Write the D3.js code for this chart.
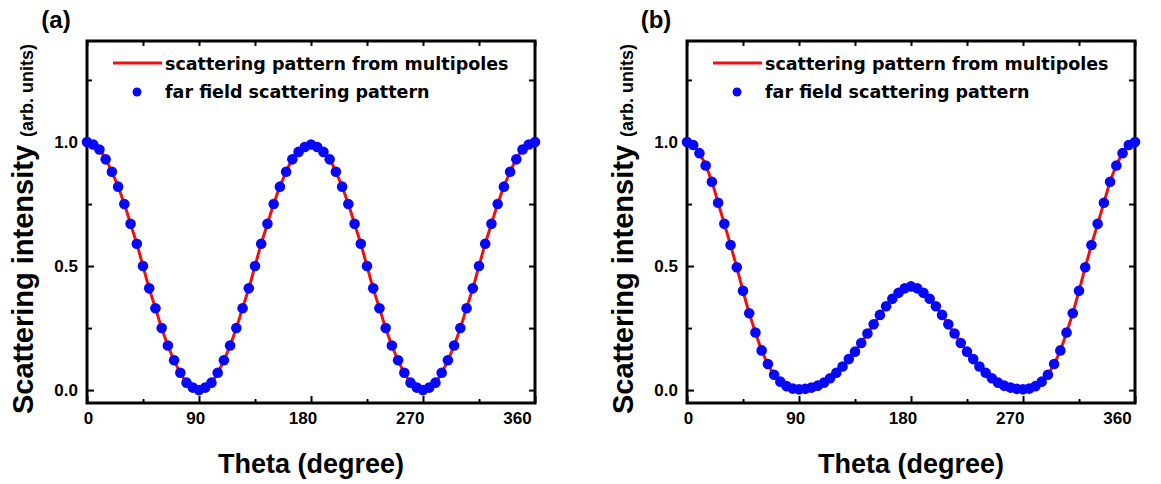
<!DOCTYPE html>
<html>
<head>
<meta charset="utf-8">
<script src="https://cdn.jsdelivr.net/npm/d3@7"></script>
<style>
  body { margin: 0; background: #fff; }
  svg { display: block; }
  .tick text { font-family: "Liberation Sans", Arial, sans-serif; font-weight: bold; font-size: 17px; fill: #000; }
  .tick line { stroke: #000; stroke-width: 2; }
</style>
</head>
<body>
<div id="chart"></div>
<script>
// angle grid (degree)
var thetaDeg = [0,5,10,15,20,25,30,35,40,45,50,55,60,65,70,75,80,85,90,
  95,100,105,110,115,120,125,130,135,140,145,150,155,160,165,170,175,180,
  185,190,195,200,205,210,215,220,225,230,235,240,245,250,255,260,265,270,
  275,280,285,290,295,300,305,310,315,320,325,330,335,340,345,350,355,360];

// panel (a): multipole curve and far field points lie on top of each other
var intensityA = [1.00,0.99,0.97,0.93,0.88,0.82,0.75,0.67,0.59,0.50,0.41,0.33,0.25,0.18,0.12,0.07,0.03,0.01,0.00,
  0.01,0.03,0.07,0.12,0.18,0.25,0.33,0.41,0.50,0.59,0.67,0.75,0.82,0.88,0.93,0.96,0.98,0.99,
  0.98,0.96,0.93,0.88,0.82,0.75,0.67,0.59,0.50,0.41,0.33,0.25,0.18,0.12,0.07,0.03,0.01,0.00,
  0.01,0.03,0.07,0.12,0.18,0.25,0.33,0.41,0.50,0.59,0.67,0.75,0.82,0.88,0.93,0.97,0.99,1.00];

// panel (b)
var intensityB = [1.00,0.988,0.955,0.905,0.84,0.755,0.67,0.585,0.495,0.40,0.31,0.232,0.16,0.105,0.062,0.034,0.016,0.006,0.003,
  0.005,0.010,0.018,0.030,0.048,0.070,0.095,0.125,0.155,0.19,0.228,0.265,0.303,0.338,0.368,0.392,0.41,0.418,
  0.41,0.392,0.368,0.338,0.303,0.265,0.228,0.19,0.155,0.125,0.095,0.070,0.048,0.030,0.018,0.010,0.005,0.003,
  0.006,0.016,0.034,0.062,0.105,0.16,0.232,0.31,0.40,0.495,0.585,0.67,0.755,0.84,0.905,0.955,0.988,1.00];

var xMajor = [0, 90, 180, 270, 360];
var xMinor = [45, 135, 225, 315];
var yMajor = [0, 0.5, 1.0];
var yMinor = [0.25, 0.75, 1.25];

var panelNames = ["(a)", "(b)"];
var legendNames = ["scattering pattern from multipoles", "far field scattering pattern"];
var xTitle = "Theta (degree)";
var yTitle = "Scattering intensity";
var yUnit = "(arb. units)";

var W = 1161, H = 484;
var svg = d3.select("#chart").append("svg")
    .attr("width", W)
    .attr("height", H);

var panels = [
  { name: panelNames[0], values: intensityA, left: 87 },
  { name: panelNames[1], values: intensityB, left: 687 }
];

panels.forEach(function(p) {
  var top = 41, bottom = 403, width = 448;

  var x = d3.scaleLinear().domain([0, 360]).range([p.left, p.left + width]);
  var y = d3.scaleLinear().domain([-0.052, 1.407]).range([bottom, top]);
  // the tick numbers in the original sit on a slightly narrower span than the ticks
  var xLab = d3.scaleLinear().domain([0, 360]).range([p.left + 1, p.left + 430]);

  var g = svg.append("g");

  // axes with inward ticks
  var xa = g.append("g").attr("transform", "translate(0," + bottom + ")")
    .call(d3.axisBottom(x).tickValues(xMajor).tickSize(-7).tickPadding(9).tickFormat(d3.format("d")));
  xa.selectAll(".tick text").attr("dx", function(d) { return xLab(d) - x(d); });
  g.append("g").attr("transform", "translate(0," + bottom + ")")
    .call(d3.axisBottom(x).tickValues(xMinor).tickSize(-4).tickFormat(""));
  g.append("g").attr("transform", "translate(0," + top + ")")
    .call(d3.axisTop(x).tickValues(xMajor.concat(xMinor)).tickSize(-5).tickFormat(""));

  g.append("g").attr("transform", "translate(" + p.left + ",0)")
    .call(d3.axisLeft(y).tickValues(yMajor).tickSize(-7).tickPadding(9).tickFormat(d3.format(".1f")));
  g.append("g").attr("transform", "translate(" + p.left + ",0)")
    .call(d3.axisLeft(y).tickValues(yMinor).tickSize(-5).tickFormat(""));
  g.append("g").attr("transform", "translate(" + (p.left + width) + ",0)")
    .call(d3.axisRight(y).tickValues(yMajor.concat(yMinor)).tickSize(-6).tickFormat(""));

  g.selectAll(".domain").remove();

  // frame
  g.append("rect")
    .attr("x", p.left).attr("y", top)
    .attr("width", width).attr("height", bottom - top)
    .attr("fill", "none").attr("stroke", "#000").attr("stroke-width", 3);

  // red curve
  var line = d3.line()
    .x(function(d, i) { return x(thetaDeg[i]); })
    .y(function(d) { return y(d); })
    .curve(d3.curveCatmullRom);

  g.append("path")
    .datum(p.values)
    .attr("d", line)
    .attr("fill", "none")
    .attr("stroke", "#f01010")
    .attr("stroke-width", 3);

  // blue points
  g.append("g")
    .selectAll("circle")
    .data(p.values)
    .enter()
    .append("circle")
      .attr("cx", function(d, i) { return x(thetaDeg[i]); })
      .attr("cy", function(d) { return y(d); })
      .attr("r", 5.3)
      .style("fill", "#0808f8");

  // legend
  g.append("line")
    .attr("x1", p.left + 26).attr("x2", p.left + 75)
    .attr("y1", 63).attr("y2", 63)
    .attr("stroke", "#f01010").attr("stroke-width", 3);
  g.append("circle")
    .attr("cx", p.left + 50).attr("cy", 92).attr("r", 4.5)
    .style("fill", "#0808f8");
  g.selectAll(".leg")
    .data(legendNames)
    .enter()
    .append("text")
      .attr("x", p.left + 78)
      .attr("y", function(d, i) { return 70 + i * 28; })
      .style("font-family", "'DejaVu Sans', Verdana, sans-serif")
      .style("font-weight", "bold")
      .style("font-size", "17.5px")
      .text(function(d) { return d; });

  // panel label
  g.append("text")
    .attr("x", p.left - 31).attr("y", 28)
    .attr("text-anchor", "middle")
    .style("font-family", "'Liberation Sans', Arial, sans-serif")
    .style("font-weight", "bold")
    .style("font-size", "24px")
    .text(p.name);

  // X axis label
  g.append("text")
    .attr("x", p.left + width / 2).attr("y", 473)
    .attr("text-anchor", "middle")
    .style("font-family", "'Liberation Sans', Arial, sans-serif")
    .style("font-weight", "bold")
    .style("font-size", "27px")
    .text(xTitle);

  // Y axis label
  var yl = g.append("text")
    .attr("transform", "translate(" + (p.left - 54) + ",229) rotate(-90)")
    .attr("text-anchor", "middle")
    .style("font-family", "'Liberation Sans', Arial, sans-serif")
    .style("font-weight", "bold");
  yl.append("tspan").style("font-size", "29px").text(yTitle + " ");
  yl.append("tspan").style("font-size", "18px").text(yUnit);
});
</script>
</body>
</html>
